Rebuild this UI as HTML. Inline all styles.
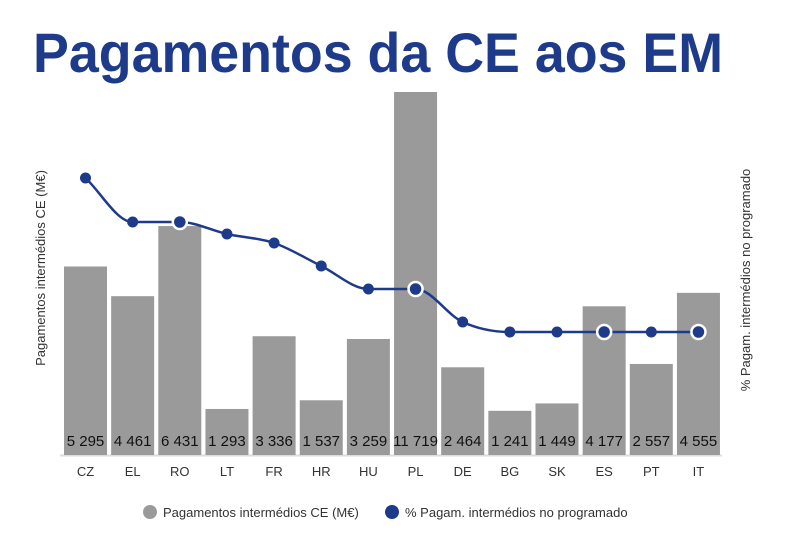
<!DOCTYPE html>
<html><head><meta charset="utf-8"><style>
body{margin:0;background:#fff;width:787px;height:532px;overflow:hidden}
</style></head><body>
<svg id="s" width="787" height="532" xmlns="http://www.w3.org/2000/svg" font-family="Liberation Sans, sans-serif">
<text x="33" y="72" font-size="56" font-weight="bold" fill="#1e3a8a" textLength="690" lengthAdjust="spacingAndGlyphs">Pagamentos da CE aos EM</text>
<text transform="translate(45,268) rotate(-90)" font-size="13" fill="#333" text-anchor="middle">Pagamentos intermédios CE (M€)</text>
<text transform="translate(750,280) rotate(-90)" font-size="13" fill="#333" text-anchor="middle">% Pagam. intermédios no programado</text>
<line x1="60" y1="455.5" x2="722" y2="455.5" stroke="#ddd" stroke-width="2"/>
<g id="bars"></g>
<path id="ln" fill="none" stroke="#1e3a8a" stroke-width="2.5"/>
<g id="pts"></g>
<circle cx="150" cy="512" r="7" fill="#9a9a9a"/>
<text x="163" y="517" font-size="13" fill="#333">Pagamentos intermédios CE (M€)</text>
<circle cx="392" cy="512" r="7" fill="#1e3a8a"/>
<text x="405" y="517" font-size="13" fill="#333">% Pagam. intermédios no programado</text>
</svg>
<script>
var c=["CZ","EL","RO","LT","FR","HR","HU","PL","DE","BG","SK","ES","PT","IT"];
var v=[5295,4461,6431,1293,3336,1537,3259,11719,2464,1241,1449,4177,2557,4555];
var ly=[178,222,222,234,243,266,289,289,322,332,332,332,332,332];
var ring=[0,0,1,0,0,0,0,1,0,0,0,1,0,1];
var NS="http://www.w3.org/2000/svg",b=document.getElementById("bars"),p=document.getElementById("pts");
function el(t,a,par,txt){var e=document.createElementNS(NS,t);for(var k in a)e.setAttribute(k,a[k]);if(txt)e.textContent=txt;par.appendChild(e);return e;}
var xs=[];
for(var i=0;i<14;i++){var x=85.5+i*47.15;xs.push(x);var h=Math.min(v[i]*0.0356,363);
el("rect",{x:x-21.5,y:455-h,width:43,height:h,fill:"#9a9a9a"},b);
el("text",{x:x,y:446,"font-size":15,fill:"#111","text-anchor":"middle"},b,v[i].toLocaleString("en").replace(/,/g," "));
el("text",{x:x,y:476,"font-size":13,fill:"#333","text-anchor":"middle"},b,c[i]);}
var d="M"+xs[0]+","+ly[0];
for(var i=0;i<13;i++){var m0=i>0?(ly[i+1]-ly[i-1])/2:ly[1]-ly[0],m1=i<12?(ly[i+2]-ly[i])/2:0;
if(ly[i]==ly[i+1]){m0=0;m1=0;} if(i>0&&(ly[i]-ly[i-1])*(ly[i+1]-ly[i])<=0)m0=0; if(i<12&&(ly[i+2]-ly[i+1])*(ly[i+1]-ly[i])<=0)m1=0;
var dx=xs[i+1]-xs[i];d+=" C"+(xs[i]+dx/3)+","+(ly[i]+m0/3)+" "+(xs[i+1]-dx/3)+","+(ly[i+1]-m1/3)+" "+xs[i+1]+","+ly[i+1];}
document.getElementById("ln").setAttribute("d",d);
for(var i=0;i<14;i++){if(ring[i])el("circle",{cx:xs[i],cy:ly[i],r:7,fill:"#1e3a8a",stroke:"#fff","stroke-width":2.5},p);else el("circle",{cx:xs[i],cy:ly[i],r:5.5,fill:"#1e3a8a"},p);}
</script>
</body></html>
